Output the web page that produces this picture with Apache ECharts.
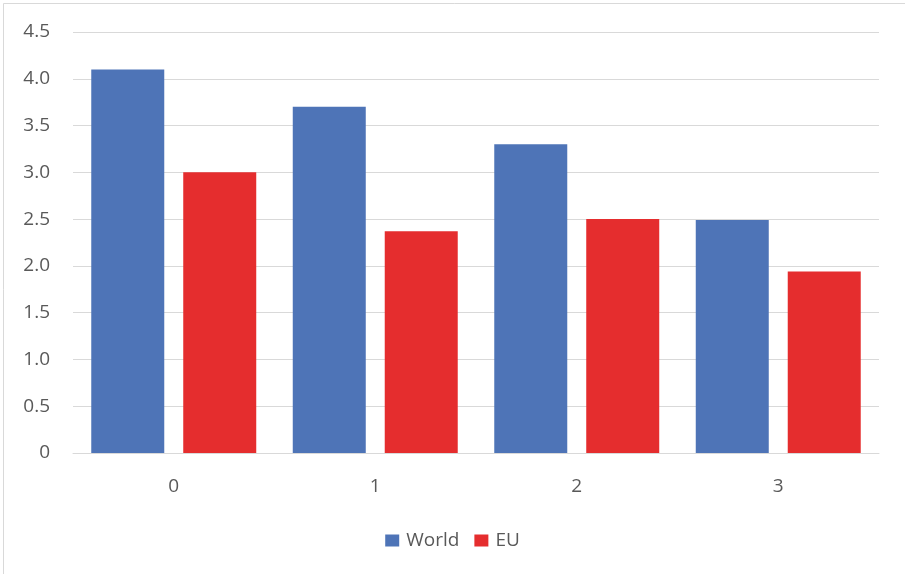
<!DOCTYPE html>
<html>
<head>
<meta charset="utf-8">
<script src="https://cdn.jsdelivr.net/npm/echarts@6/dist/echarts.min.js"></script>
<style>
  html, body { margin: 0; padding: 0; background: #ffffff; }
  #chart { width: 905px; height: 574px; }
</style>
</head>
<body>
<div id="chart"></div>
<script>
// Category labels along the x axis
const categories = ['0', '1', '2', '3'];
// Series values
const worldValues = [4.1, 3.7, 3.3, 2.49];
const euValues = [3.0, 2.37, 2.5, 1.94];
// Series names
const seriesNames = ['World', 'EU'];

const textColor = '#595959';
const fontFamily = '"Open Sans", "Liberation Sans", sans-serif';

const chart = echarts.init(document.getElementById('chart'), null, { renderer: 'canvas' });

chart.setOption({
  animation: false,
  backgroundColor: '#ffffff',
  graphic: [
    {
      // chart-area frame (right and bottom edges fall outside the canvas)
      type: 'rect',
      shape: { x: 3.5, y: 3.5, width: 920, height: 590 },
      style: { fill: 'none', stroke: '#d9d9d9', lineWidth: 1 },
      silent: true
    }
  ],
  grid: { left: 73, right: 26, top: 32, bottom: 121, containLabel: false },
  legend: {
    data: seriesNames,
    left: 'center',
    top: 526,
    itemWidth: 14,
    itemHeight: 12,
    itemGap: 15,
    icon: 'rect',
    textStyle: { color: textColor, fontSize: 19, fontFamily: fontFamily, padding: [0, 0, 0, 2] }
  },
  xAxis: {
    type: 'category',
    data: categories,
    axisLine: { show: true, lineStyle: { color: '#d9d9d9', width: 1 } },
    axisTick: { show: false },
    axisLabel: { color: textColor, fontSize: 19, fontFamily: fontFamily, margin: 24 }
  },
  yAxis: {
    type: 'value',
    min: 0,
    max: 4.5,
    interval: 0.5,
    axisLine: { show: false },
    axisTick: { show: false },
    splitLine: { lineStyle: { color: '#d9d9d9', width: 1 } },
    axisLabel: {
      color: textColor,
      fontSize: 19,
      fontFamily: fontFamily,
      margin: 23,
      formatter: function (v) { return v === 0 ? '0' : v.toFixed(1); }
    }
  },
  series: [
    {
      name: seriesNames[0],
      type: 'bar',
      data: worldValues,
      barWidth: 73,
      barGap: '26%',
      itemStyle: { color: '#4E74B7' }
    },
    {
      name: seriesNames[1],
      type: 'bar',
      data: euValues,
      barWidth: 73,
      barGap: '26%',
      itemStyle: { color: '#E52D2E' }
    }
  ]
});
</script>
</body>
</html>
